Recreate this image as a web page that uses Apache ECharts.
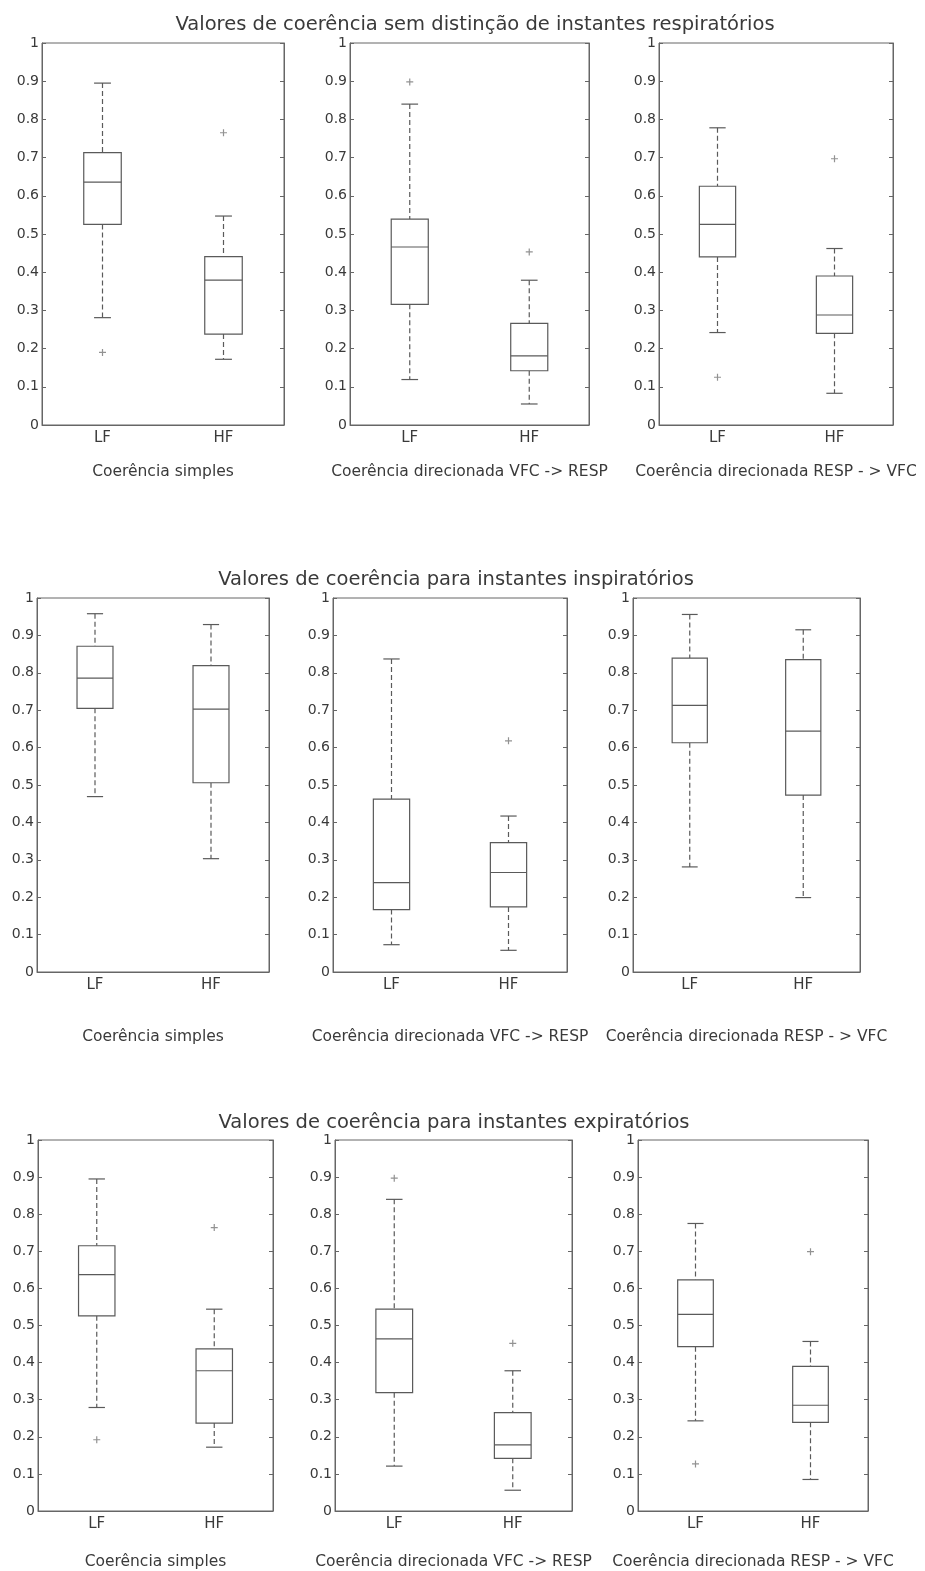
<!DOCTYPE html>
<html><head><meta charset="utf-8">
<script src="https://cdn.jsdelivr.net/npm/echarts@6/dist/echarts.min.js"></script>
<style>html,body{margin:0;padding:0;background:#fff}#c{width:925px;height:1571px}</style>
</head><body><div id="c"></div>
<script>
// ---- data ----
const categories = ['LF', 'HF'];
const rowTitles = [
  'Valores de coerência sem distinção de instantes respiratórios',
  'Valores de coerência para instantes inspiratórios',
  'Valores de coerência para instantes expiratórios'
];
const panelNames = ['Coerência simples', 'Coerência direcionada VFC -> RESP', 'Coerência direcionada RESP - > VFC'];

// [lower whisker, Q1, median, Q3, upper whisker] for LF, HF
const semSimples   = [[0.281, 0.525, 0.636, 0.713, 0.895], [0.172, 0.238, 0.379, 0.441, 0.547]];
const semVfcResp   = [[0.119, 0.316, 0.466, 0.539, 0.840], [0.055, 0.142, 0.181, 0.266, 0.379]];
const semRespVfc   = [[0.242, 0.440, 0.525, 0.625, 0.778], [0.083, 0.240, 0.288, 0.390, 0.462]];
const insSimples   = [[0.469, 0.705, 0.786, 0.871, 0.958], [0.303, 0.506, 0.703, 0.819, 0.929]];
const insVfcResp   = [[0.073, 0.167, 0.239, 0.462, 0.837], [0.058, 0.174, 0.266, 0.346, 0.417]];
const insRespVfc   = [[0.281, 0.613, 0.713, 0.839, 0.956], [0.199, 0.473, 0.644, 0.835, 0.915]];
const expSimples   = [[0.279, 0.526, 0.637, 0.715, 0.895], [0.172, 0.237, 0.378, 0.437, 0.544]];
const expVfcResp   = [[0.121, 0.319, 0.464, 0.544, 0.840], [0.056, 0.142, 0.178, 0.265, 0.378]];
const expRespVfc   = [[0.243, 0.443, 0.530, 0.623, 0.775], [0.085, 0.239, 0.285, 0.390, 0.457]];

// outliers: [category index, value]
const semSimplesOut = [[0, 0.190], [1, 0.765]];
const semVfcRespOut = [[0, 0.898], [1, 0.453]];
const semRespVfcOut = [[0, 0.125], [1, 0.697]];
const insSimplesOut = [];
const insVfcRespOut = [[1, 0.618]];
const insRespVfcOut = [];
const expSimplesOut = [[0, 0.192], [1, 0.764]];
const expVfcRespOut = [[0, 0.897], [1, 0.452]];
const expRespVfcOut = [[0, 0.127], [1, 0.699]];

const yMin = 0, yMax = 1, yStep = 0.1;

// ---- layout ----
const boxes = [semSimples, semVfcResp, semRespVfc, insSimples, insVfcResp, insRespVfc, expSimples, expVfcResp, expRespVfc];
const outs = [semSimplesOut, semVfcRespOut, semRespVfcOut, insSimplesOut, insVfcRespOut, insRespVfcOut, expSimplesOut, expVfcRespOut, expRespVfcOut];
const grids = [
  {left: 42, top: 43, width: 242, height: 382},
  {left: 350, top: 43, width: 239, height: 382},
  {left: 659, top: 43, width: 234, height: 382},
  {left: 37, top: 598, width: 232, height: 374},
  {left: 333, top: 598, width: 234, height: 374},
  {left: 633, top: 598, width: 227, height: 374},
  {left: 38, top: 1140, width: 235, height: 374},
  {left: 335, top: 1140, width: 237, height: 374},
  {left: 638, top: 1140, width: 230, height: 374}
];
const nameGaps = [39, 39, 39, 57, 57, 57, 43, 43, 43];
const titlePos = [{x: 470, y: 10}, {x: 451, y: 565}, {x: 449, y: 1108}];

const LINE = '#5a5a5a';
const TEXT = '#3a3a3a';
const FONT = 'DejaVu Sans, sans-serif';

function renderBox(params, api) {
  const c = api.value(0);
  const lo = api.coord([c, api.value(1)]);
  const q1 = api.coord([c, api.value(2)]);
  const md = api.coord([c, api.value(3)]);
  const q3 = api.coord([c, api.value(4)]);
  const hi = api.coord([c, api.value(5)]);
  const band = api.size([1, 0])[0];
  const bw = band * 0.31, cw = bw * 0.45;
  const x = lo[0];
  const st = {stroke: LINE, lineWidth: 1.2, fill: null};
  const dash = {stroke: LINE, lineWidth: 1.2, lineDash: [5, 3], fill: null};
  return {
    type: 'group',
    children: [
      {type: 'line', shape: {x1: x, y1: hi[1], x2: x, y2: q3[1]}, style: dash},
      {type: 'line', shape: {x1: x, y1: q1[1], x2: x, y2: lo[1]}, style: dash},
      {type: 'line', shape: {x1: x - cw / 2, y1: hi[1], x2: x + cw / 2, y2: hi[1]}, style: st},
      {type: 'line', shape: {x1: x - cw / 2, y1: lo[1], x2: x + cw / 2, y2: lo[1]}, style: st},
      {type: 'rect', shape: {x: x - bw / 2, y: q3[1], width: bw, height: q1[1] - q3[1]}, style: {stroke: LINE, lineWidth: 1.2, fill: '#fff'}},
      {type: 'line', shape: {x1: x - bw / 2, y1: md[1], x2: x + bw / 2, y2: md[1]}, style: st}
    ]
  };
}

const option = {
  backgroundColor: '#fff',
  animation: false,
  title: rowTitles.map((t, i) => ({
    text: t, left: titlePos[i].x, top: titlePos[i].y, textAlign: 'center',
    textStyle: {fontFamily: FONT, fontSize: 19.5, fontWeight: 'normal', color: TEXT}
  })),
  grid: grids.map(g => Object.assign({show: true, borderColor: '#666', borderWidth: 1, backgroundColor: '#fff'}, g)),
  xAxis: grids.map((g, i) => ({
    type: 'category', gridIndex: i, data: categories, boundaryGap: true,
    name: panelNames[i % 3], nameLocation: 'middle', nameGap: nameGaps[i],
    nameTextStyle: {fontFamily: FONT, fontSize: 15.5, color: TEXT},
    axisLine: {lineStyle: {color: '#666'}},
    axisTick: {show: false},
    axisLabel: {fontFamily: FONT, fontSize: 15, color: TEXT, margin: 6},
    splitLine: {show: false}
  })),
  yAxis: grids.flatMap((g, i) => [
    {
      type: 'value', gridIndex: i, min: yMin, max: yMax, interval: yStep, position: 'left',
      axisLine: {show: true, lineStyle: {color: '#666'}},
      axisTick: {show: true, inside: true, length: 4, lineStyle: {color: '#666'}},
      axisLabel: {fontFamily: FONT, fontSize: 14, color: TEXT, margin: 3},
      splitLine: {show: false}
    },
    {
      type: 'value', gridIndex: i, min: yMin, max: yMax, interval: yStep, position: 'right',
      axisLine: {show: true, lineStyle: {color: '#666'}},
      axisTick: {show: true, inside: true, length: 4, lineStyle: {color: '#666'}},
      axisLabel: {show: false},
      splitLine: {show: false}
    }
  ]),
  series: boxes.flatMap((b, i) => [
    {
      type: 'custom', xAxisIndex: i, yAxisIndex: 2 * i,
      renderItem: renderBox,
      encode: {x: 0, y: [1, 2, 3, 4, 5]},
      data: b.map((v, k) => [k].concat(v)),
      silent: true
    },
    {
      type: 'scatter', xAxisIndex: i, yAxisIndex: 2 * i,
      symbol: 'path://M0,5L10,5M5,0L5,10', symbolSize: 7,
      itemStyle: {color: 'transparent', borderColor: '#777', borderWidth: 1.2},
      data: outs[i], silent: true
    }
  ])
};

const chart = echarts.init(document.getElementById('c'), null, {renderer: 'canvas'});
chart.setOption(option);
</script>
</body></html>
